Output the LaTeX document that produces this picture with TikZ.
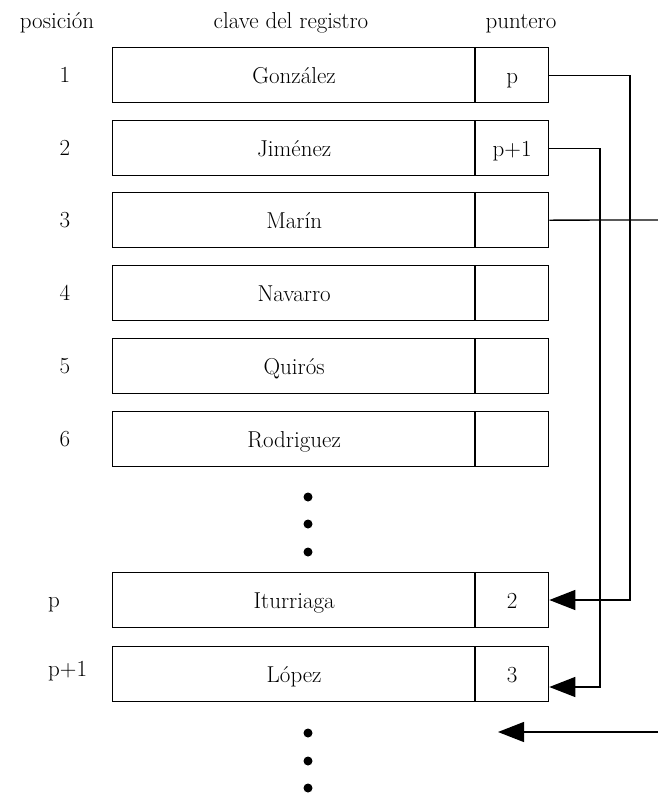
\documentclass[tikz,border=0pt]{standalone}
\usetikzlibrary{arrows.meta}
\begin{document}
\begin{tikzpicture}[x=1pt,y=-1pt,
  txt/.style={font=\fontsize{23}{26}\selectfont,inner sep=0pt,anchor=base},
  keybox/.style={draw,line width=1.3pt,minimum width=363pt,minimum height=55pt,anchor=north west,inner sep=0pt,text height=17pt,text depth=1pt,font=\fontsize{23}{26}\selectfont},
  ptrbox/.style={keybox,minimum width=73pt},
  divider/.style={line width=2.4pt},
  link/.style={line width=1.3pt},
  arr/.style={link,-{Triangle[length=26pt,width=20pt]}},
  dot/.style={circle,fill,inner sep=0pt,minimum size=9pt}]
\useasboundingbox (0,0) rectangle (658,796);
% headers
\node[txt] (h1) at (57,28) {posición};
\node[txt] (h2) at (291,28) {clave del registro};
\node[txt] (h3) at (521,28) {puntero};
% rows
\foreach \n/\y/\key/\ptr in {1/47/González/p, 2/120/Jiménez/p+1, 3/192/Marín/, 4/265/Navarro/, 5/338/Quirós/, 6/411/Rodriguez/, p/572/Iturriaga/2, q/646/López/3}{
  \node[keybox] (k\n) at (112,\y) {\key};
  \node[ptrbox] (r\n) at (475,\y) {\ptr};
  \draw[divider] (r\n.north west) -- (r\n.south west);
}
% position labels
\node[txt] (l1) at (65,82) {1};
\node[txt] (l2) at (65,155) {2};
\node[txt] (l3) at (65,227) {3};
\node[txt] (l4) at (65,300) {4};
\node[txt] (l5) at (65,373) {5};
\node[txt] (l6) at (65,446) {6};
\node[txt,anchor=base west] (lp) at (48,607) {p};
\node[txt,anchor=base west] (lq) at (48,676) {p+1};
% dots
\node[dot] (d1) at (308,497) {};
\node[dot] (d2) at (308,524) {};
\node[dot] (d3) at (308,552) {};
\node[dot] (d4) at (308,733) {};
\node[dot] (d5) at (308,761) {};
\node[dot] (d6) at (308,788) {};
% connectors
\coordinate (c1) at (630,600);
\coordinate (c2) at (600,687);
\coordinate (e3) at (658,220);
\coordinate (e4) at (658,732);
\coordinate (t4) at (498,732);
\draw[arr] (r1.east) -| (c1) -- (c1 -| rp.east);
\draw[arr] (r2.east) -| (c2) -- (c2 -| rq.east);
\draw[link] (r3.east) -- (e3);
\draw[arr] (e4) -- (t4);
\end{tikzpicture}
\end{document}
